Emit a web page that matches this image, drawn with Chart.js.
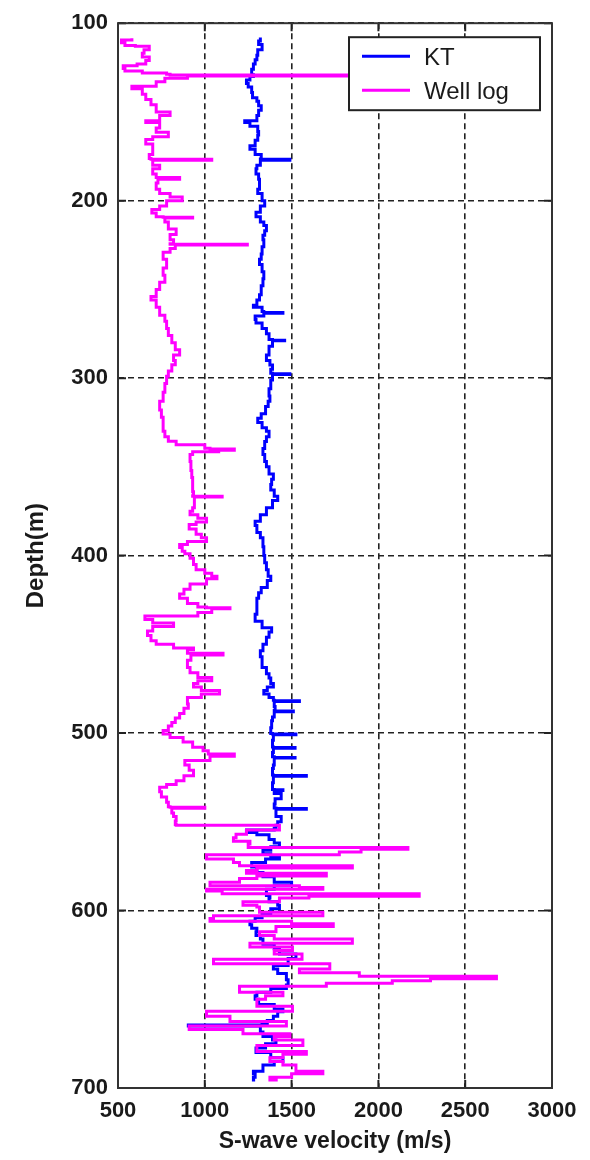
<!DOCTYPE html>
<html>
<head>
<meta charset="utf-8">
<title>Velocidade da onda S</title>
<script src="https://cdn.jsdelivr.net/npm/chart.js@4.4.1/dist/chart.umd.min.js"></script>
<style>
    html, body { margin: 0; padding: 0; background: #ffffff; }
    #quadro { width: 590px; height: 1160px; }
</style>
</head>
<body>
<div id="quadro"><canvas id="graficoVelocidade" width="590" height="1160"></canvas></div>
<script>
/* Marcas dos eixos */
const ticksVelocidade = [500, 1000, 1500, 2000, 2500, 3000];
const ticksProfundidade = [100, 200, 300, 400, 500, 600, 700];

/* Curva KT: profundidade (m) e velocidade (m/s) */
const profundidadeKT = [
    108, 110, 112, 115, 118, 120.6, 123, 126, 129, 130,
    132, 134, 136, 139, 142, 144, 146.5, 149, 152, 155,
    156, 158, 161, 163, 166, 169, 171, 174, 176.5, 176.7,
    177.2, 180, 182, 185, 188, 191, 193.5, 196, 200, 203,
    206.5, 209, 212, 214, 217, 219.5, 222, 226, 230, 233,
    236, 240, 244, 248, 253, 256, 259, 260, 262.5, 263,
    263.5, 265, 267, 269, 272, 275, 278.3, 278.6, 279, 282,
    287, 290, 292.6, 295, 297.3, 297.6, 298, 301, 306, 310,
    313, 316, 320, 322.6, 325, 328, 330, 333, 335.7, 339.7,
    343, 347, 350, 354, 357, 360, 363, 366.5, 369, 373,
    377, 380.6, 383, 387, 390, 395, 400, 404, 408, 411.6,
    414, 418, 421, 424, 428, 433, 437, 440.7, 443, 446,
    450, 453.6, 457, 463, 466.6, 469, 472, 474, 476, 478,
    480, 481.5, 481.8, 482.2, 485, 487.3, 487.6, 488, 491, 493,
    497, 500.2, 500.5, 500.9, 504, 507.8, 508.1, 508.5, 511, 513.4,
    513.7, 514.1, 518, 520, 523.6, 523.9, 524.3, 528, 531.8, 532,
    532.4, 534, 537, 540, 542.2, 542.5, 542.9, 547, 550, 552,
    553.5, 554.6, 556, 557.3, 560, 562, 564, 566, 568, 569.6,
    571, 573, 575.5, 578.5, 581, 584, 586, 588, 591.5, 593,
    595, 597, 599, 602, 604, 606, 608, 610, 612, 614,
    616, 619, 621.5, 624.5, 627, 631, 633, 635.5, 639, 642,
    644, 646, 648, 650, 653, 655.5, 657, 659.5, 662, 664,
    664.5, 665, 668.5, 671, 673, 675, 677.5, 680, 683, 685,
    687, 690.5, 692, 694, 695.5
];
const velocidadeKT = [
    1320, 1310, 1330, 1305, 1300, 1290, 1280, 1270, 1280, 1260,
    1240, 1250, 1270, 1275, 1300, 1310, 1325, 1310, 1300, 1230,
    1260, 1305, 1310, 1305, 1290, 1260, 1290, 1325, 1320, 1490,
    1320, 1300, 1295, 1310, 1315, 1315, 1305, 1330, 1345, 1320,
    1295, 1320, 1340, 1355, 1345, 1335, 1340, 1330, 1325, 1315,
    1330, 1340, 1335, 1325, 1315, 1300, 1280, 1330, 1340, 1450,
    1340, 1290, 1295, 1330, 1355, 1370, 1390, 1460, 1390, 1370,
    1355, 1375, 1390, 1380, 1390, 1490, 1390, 1380, 1370, 1375,
    1365, 1350, 1325, 1305, 1330, 1355, 1370, 1355, 1345, 1335,
    1345, 1355, 1370, 1395, 1385, 1380, 1400, 1420, 1390, 1355,
    1320, 1290, 1300, 1320, 1335, 1340, 1345, 1355, 1365, 1380,
    1360, 1325, 1310, 1300, 1300, 1290, 1330, 1385, 1370, 1355,
    1335, 1320, 1330, 1355, 1370, 1380, 1395, 1360, 1340, 1370,
    1395, 1400, 1545, 1400, 1405, 1400, 1510, 1400, 1390, 1385,
    1380, 1390, 1525, 1395, 1390, 1395, 1520, 1395, 1390, 1400,
    1520, 1400, 1395, 1390, 1395, 1585, 1395, 1390, 1400, 1450,
    1400, 1440, 1405, 1400, 1410, 1585, 1410, 1440, 1420, 1410,
    1400, 1240, 1300, 1370, 1400, 1430, 1380, 1335, 1380, 1430,
    1350, 1270, 1300, 1335, 1400, 1500, 1400, 1355, 1375, 1370,
    1420, 1430, 1380, 1330, 1290, 1260, 1270, 1300, 1295, 1320,
    1335, 1400, 1430, 1525, 1480, 1395, 1420, 1470, 1480, 1470,
    1380, 1300, 1290, 1310, 1400, 1450, 1420, 1395, 1360, 1330,
    905, 1320, 1335, 1390, 1410, 1350, 1295, 1380, 1450, 1400,
    1335, 1280, 1290, 1280, 1290
];

/* Curva do perfil de poço: profundidade (m) e velocidade (m/s) */
const profundidadePoco = [
    108.5, 109.5, 111, 112.5, 113, 115, 117, 119, 121, 123,
    124, 125.5, 127, 128, 128.8, 129.2, 129.8, 131, 133, 135.5,
    137, 140, 143, 146, 150, 152, 155, 156, 159, 161.5,
    164, 165.5, 168, 171, 174, 176.3, 176.7, 177.2, 180, 182,
    185, 187, 188, 190, 193.5, 196, 198, 200, 203, 205,
    207, 209, 209.3, 209.7, 212, 216, 219, 222, 224.3, 224.6,
    225, 227, 229, 233, 238, 242, 246, 250, 254, 256,
    260, 264.5, 268, 272, 276, 280, 284, 287, 290, 292.5,
    296, 299, 303, 308, 313, 318, 322, 326, 330, 333,
    335.5, 337.5, 339.5, 340, 340.6, 341.5, 343, 347, 352, 356,
    360, 364, 366.3, 366.6, 367, 370, 373, 375, 377, 379,
    381, 382.5, 385, 388, 390, 392, 393.7, 395.5, 397.5, 399,
    401.5, 405, 408, 410, 411.6, 413, 416, 419, 421.6, 424,
    427, 429, 429.4, 430, 432, 434, 436, 438, 440, 442.5,
    445, 448, 450, 452, 453, 455, 456, 459, 463, 466,
    468.7, 470.5, 472, 474, 476, 478, 480, 483.6, 486, 489,
    491.5, 494, 496, 498.6, 500.5, 502.5, 505, 508, 510, 511.8,
    513, 515.5, 518, 521, 524, 526.8, 529, 530.6, 533, 536,
    539, 541.5, 541.8, 542.3, 545, 547, 549.5, 551.5, 552, 553.5,
    554.6, 557, 559, 561, 562.5, 564.5, 565.5, 567, 568.5, 571,
    573, 574.7, 576, 577.5, 579, 580.5, 582, 584, 586, 587,
    588, 589, 590.6, 592, 593, 595, 597, 598, 601, 603,
    604.5, 606, 607.5, 609, 612, 614, 616, 618.5, 620.5, 622.5,
    624.5, 627.5, 630, 633, 635, 637, 638.5, 639.6, 641, 642.6,
    646, 648, 650, 654, 656.7, 659.5, 662.5, 665, 667, 669.5,
    671, 673, 676, 679.5, 681, 683, 685, 687, 690.5, 692,
    694, 695.5
];
const velocidadePoco = [
    580, 520, 540, 600, 680, 650, 640, 680, 660, 610,
    530, 540, 640, 780, 800, 1850, 900, 770, 720, 580,
    640, 660, 690, 720, 800, 740, 660, 740, 720, 790,
    700, 660, 700, 700, 680, 690, 1040, 700, 740, 700,
    720, 855, 730, 720, 740, 800, 870, 780, 740, 695,
    720, 760, 930, 770, 790, 835, 800, 820, 800, 1245,
    830, 800, 760, 780, 760, 770, 740, 720, 690, 720,
    740, 770, 780, 790, 810, 830, 855, 820, 830, 810,
    790, 780, 770, 760, 740, 750, 760, 760, 770, 790,
    835, 1000, 1030, 1170, 1080, 930, 915, 920, 925, 930,
    930, 935, 930, 1100, 940, 940, 930, 915, 960, 1010,
    950, 910, 950, 980, 1010, 900, 855, 870, 885, 915,
    935, 950, 1000, 1040, 1070, 1010, 915, 880, 855, 900,
    960, 1010, 1145, 1040, 960, 655, 700, 820, 700, 670,
    690, 720, 820, 935, 900, 1105, 920, 900, 915, 960,
    1040, 960, 935, 980, 1085, 980, 900, 905, 880, 855,
    830, 810, 790, 760, 800, 875, 930, 990, 1020, 1170,
    1030, 885, 910, 935, 880, 835, 780, 740, 750, 780,
    790, 800, 1000, 810, 820, 835, 830, 835, 1430, 1430,
    1240, 1180, 1165, 1260, 1250, 2170, 1900, 1775, 1010, 1165,
    1200, 1850, 1300, 1240, 1700, 1300, 1200, 1030, 1545, 1680,
    1010, 1100, 2235, 1600, 1430, 1220, 1300, 1315, 1680, 1050,
    1030, 1500, 1740, 1410, 1315, 1400, 1850, 1260, 1505, 1400,
    1560, 1050, 1720, 1545, 1890, 2680, 2300, 2080, 1700, 1200,
    1450, 1350, 1300, 1505, 1010, 1145, 1470, 910, 1220, 1490,
    1400, 1565, 1300, 1585, 1450, 1375, 1450, 1525, 1680, 1500,
    1375, 1420
];

/* Fonte usada em todos os textos */
const FONTE = "'Liberation Sans', Arial, sans-serif";

/* Monta os pontos {x, y} de cada curva */
function montarPontos(profundidades, velocidades) {
    return profundidades.map((d, i) => ({ x: velocidades[i], y: d }));
}

/* Desenha a moldura, os traços internos dos eixos e a legenda */
const molduraELegenda = {
    id: "molduraELegenda",
    afterDraw(chart) {
        const { ctx, chartArea: a, scales: { x, y } } = chart;
        ctx.save();

        // Traços internos nas quatro bordas
        ctx.strokeStyle = "#222222";
        ctx.lineWidth = 2;
        ctx.beginPath();
        ticksVelocidade.forEach((v) => {
            const px = x.getPixelForValue(v);
            ctx.moveTo(px, a.bottom);
            ctx.lineTo(px, a.bottom - 8);
            ctx.moveTo(px, a.top);
            ctx.lineTo(px, a.top + 8);
        });
        ticksProfundidade.forEach((d) => {
            const py = y.getPixelForValue(d);
            ctx.moveTo(a.left, py);
            ctx.lineTo(a.left + 8, py);
            ctx.moveTo(a.right, py);
            ctx.lineTo(a.right - 8, py);
        });
        ctx.stroke();

        // Moldura do gráfico
        ctx.lineWidth = 2;
        ctx.strokeStyle = "#333333";
        ctx.strokeRect(a.left, a.top, a.right - a.left, a.bottom - a.top);

        // Caixa da legenda no canto superior direito
        const lx = a.right - 203, ly = a.top + 14, lw = 191, lh = 73;
        ctx.fillStyle = "#ffffff";
        ctx.fillRect(lx, ly, lw, lh);
        ctx.lineWidth = 2;
        ctx.strokeStyle = "#222222";
        ctx.strokeRect(lx, ly, lw, lh);

        // Itens da legenda (KT primeiro)
        const itens = [chart.data.datasets[1], chart.data.datasets[0]];
        ctx.font = "24px " + FONTE;
        ctx.textBaseline = "middle";
        itens.forEach((ds, i) => {
            const ty = ly + 19 + i * 34;
            ctx.strokeStyle = ds.borderColor;
            ctx.lineWidth = 3;
            ctx.beginPath();
            ctx.moveTo(lx + 13, ty);
            ctx.lineTo(lx + 61, ty);
            ctx.stroke();
            ctx.fillStyle = "#1a1a1a";
            ctx.fillText(ds.label, lx + 75, ty + 2);
        });

        ctx.restore();
    },
};

/* Cria o gráfico de profundidade x velocidade */
const ctxVelocidade = document.getElementById("graficoVelocidade").getContext("2d");
new Chart(ctxVelocidade, {
    type: "scatter",
    data: {
        datasets: [
            {
                label: "Well log",
                data: montarPontos(profundidadePoco, velocidadePoco),
                showLine: true,
                stepped: "after",
                borderColor: "#ff00ff",
                backgroundColor: "#ff00ff",
                borderWidth: 3,
                pointRadius: 0,
            },
            {
                label: "KT",
                data: montarPontos(profundidadeKT, velocidadeKT),
                showLine: true,
                stepped: "after",
                borderColor: "#0000ff",
                backgroundColor: "#0000ff",
                borderWidth: 3,
                pointRadius: 0,
            },
        ],
    },
    options: {
        responsive: false,
        animation: false,
        layout: { padding: { top: 20, right: 38, left: 0, bottom: 0 } },
        plugins: {
            legend: { display: false },
            tooltip: { enabled: false },
        },
        scales: {
            x: {
                type: "linear",
                position: "bottom",
                min: 500,
                max: 3000,
                afterBuildTicks: (s) => { s.ticks = ticksVelocidade.map((v) => ({ value: v })); },
                afterFit: (s) => { s.height = 72; },
                ticks: {
                    color: "#1a1a1a",
                    padding: 10,
                    maxRotation: 0,
                    autoSkip: false,
                    callback: (v) => String(v),
                    font: { family: FONTE, size: 22, weight: "bold" },
                },
                grid: { color: "#222222", lineWidth: 1.6, drawTicks: false },
                border: { display: false, dash: [6, 4] },
                title: {
                    display: true,
                    text: "S-wave velocity (m/s)",
                    color: "#1a1a1a",
                    font: { family: FONTE, size: 23, weight: "bold" },
                    padding: { top: 0, bottom: 5 },
                },
            },
            y: {
                type: "linear",
                reverse: true,
                min: 100,
                max: 700,
                afterBuildTicks: (s) => { s.ticks = ticksProfundidade.map((v) => ({ value: v })); },
                afterFit: (s) => { s.width = 118; },
                ticks: {
                    color: "#1a1a1a",
                    padding: 10,
                    autoSkip: false,
                    callback: (v) => String(v),
                    font: { family: FONTE, size: 22, weight: "bold" },
                },
                grid: { color: "#222222", lineWidth: 1.6, drawTicks: false },
                border: { display: false, dash: [6, 4] },
                title: {
                    display: true,
                    text: "Depth(m)",
                    color: "#1a1a1a",
                    font: { family: FONTE, size: 24, weight: "bold" },
                    padding: { top: 22, bottom: 0 },
                },
            },
        },
    },
    plugins: [molduraELegenda],
});
</script>
</body>
</html>
